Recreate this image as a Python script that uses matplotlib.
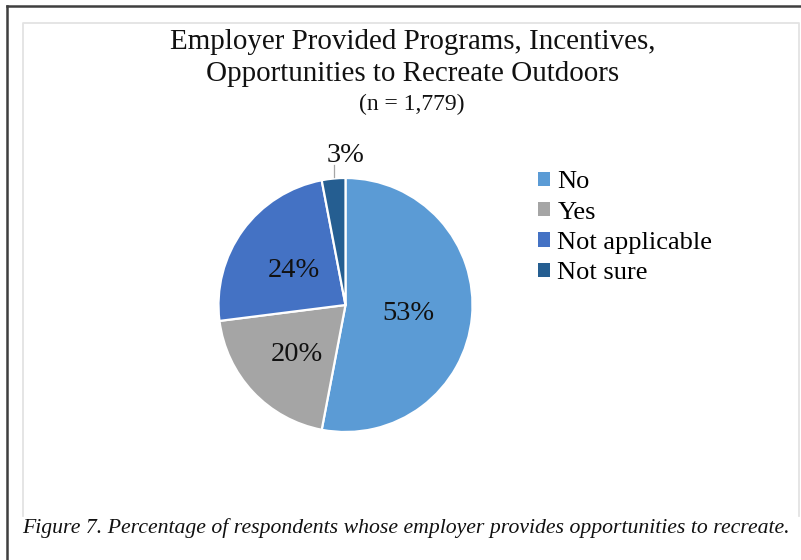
import matplotlib
matplotlib.use("Agg")
import matplotlib.pyplot as plt
from matplotlib.lines import Line2D
from matplotlib.patches import Patch
import numpy as np

# Survey results
categories = ["No", "Yes", "Not applicable", "Not sure"]
shares = [53, 20, 24, 3]
colors = ["#5B9BD5", "#A5A5A5", "#4472C4", "#255E91"]

title_lines = ["Employer Provided Programs, Incentives,",
               "Opportunities to Recreate Outdoors"]
subtitle = "(n = 1,779)"
caption = ("Figure 7. Percentage of respondents whose employer provides "
           "opportunities to recreate.")

W, H = 801, 560
DPI = 100
plt.rcParams["font.family"] = ["Liberation Serif", "DejaVu Serif"]

fig = plt.figure(figsize=(W / DPI, H / DPI), dpi=DPI)
fig.patch.set_facecolor("white")


def fx(px):
    return px / W


def fy(py):
    return 1 - py / H


# page frame (dark) and chart frame (light grey)
fig.add_artist(Line2D([fx(7), fx(7)], [fy(6), 0], transform=fig.transFigure,
                      color="#3f3f3f", lw=1.8))
fig.add_artist(Line2D([fx(7), 1], [fy(6), fy(6)], transform=fig.transFigure,
                      color="#3f3f3f", lw=1.8))
fig.add_artist(Line2D([fx(23), fx(23), fx(799), fx(799)],
                      [fy(516), fy(22.5), fy(22.5), fy(516)],
                      transform=fig.transFigure, color="#e3e3e3", lw=1.3))

# pie axes: centre (345.5, 305) px, radius 127 px
R = 127
half = 1.45
cx, cy = 345.5, 305
ax = fig.add_axes([fx(cx - half * R), fy(cy + half * R),
                   2 * half * R / W, 2 * half * R / H])

wedges, _ = ax.pie(shares, colors=colors, startangle=90, counterclock=False,
                   radius=1.0, wedgeprops=dict(edgecolor="white", linewidth=1.6))
ax.set_xlim(-half, half)
ax.set_ylim(-half, half)
ax.set_aspect("equal")
ax.axis("off")

label_fs = 20.5
inside_r = [0.5, 0.53, 0.5]
for w, v, r in zip(wedges[:3], shares[:3], inside_r):
    ang = np.deg2rad((w.theta1 + w.theta2) / 2)
    ax.text(r * np.cos(ang), r * np.sin(ang), f"{v}%", ha="center",
            va="center_baseline", fontsize=label_fs, color="#111111")

# small slice: label outside with a leader line
w = wedges[3]
ang = np.deg2rad((w.theta1 + w.theta2) / 2)
x0 = np.cos(ang)
ax.plot([x0, x0], [1.01, 1.10], color="#a6a6a6", lw=0.9)
ax.text(0.0, 1.2, f"{shares[3]}%", ha="center", va="center_baseline",
        fontsize=label_fs, color="#111111")

# titles
fig.text(fx(413), fy(42), title_lines[0], ha="center", va="center",
         fontsize=20.9, color="#111111")
fig.text(fx(413), fy(74), title_lines[1], ha="center", va="center",
         fontsize=20.9, color="#111111")
fig.text(fx(412), fy(104), subtitle, ha="center", va="center",
         fontsize=17, color="#111111")

# legend
handles = [Patch(facecolor=c, edgecolor="none") for c in colors]
fig.legend(handles, categories, loc="upper left",
           bbox_to_anchor=(fx(520), fy(153)), frameon=False,
           fontsize=19, handlelength=0.45, handleheight=0.45,
           handletextpad=0.27, labelspacing=0.31, borderpad=0.2)

# caption
fig.text(fx(22), fy(528), caption, ha="left", va="center", fontsize=15.7,
         style="italic", color="#111111")

fig.savefig("out.png", dpi=DPI, facecolor="white")
